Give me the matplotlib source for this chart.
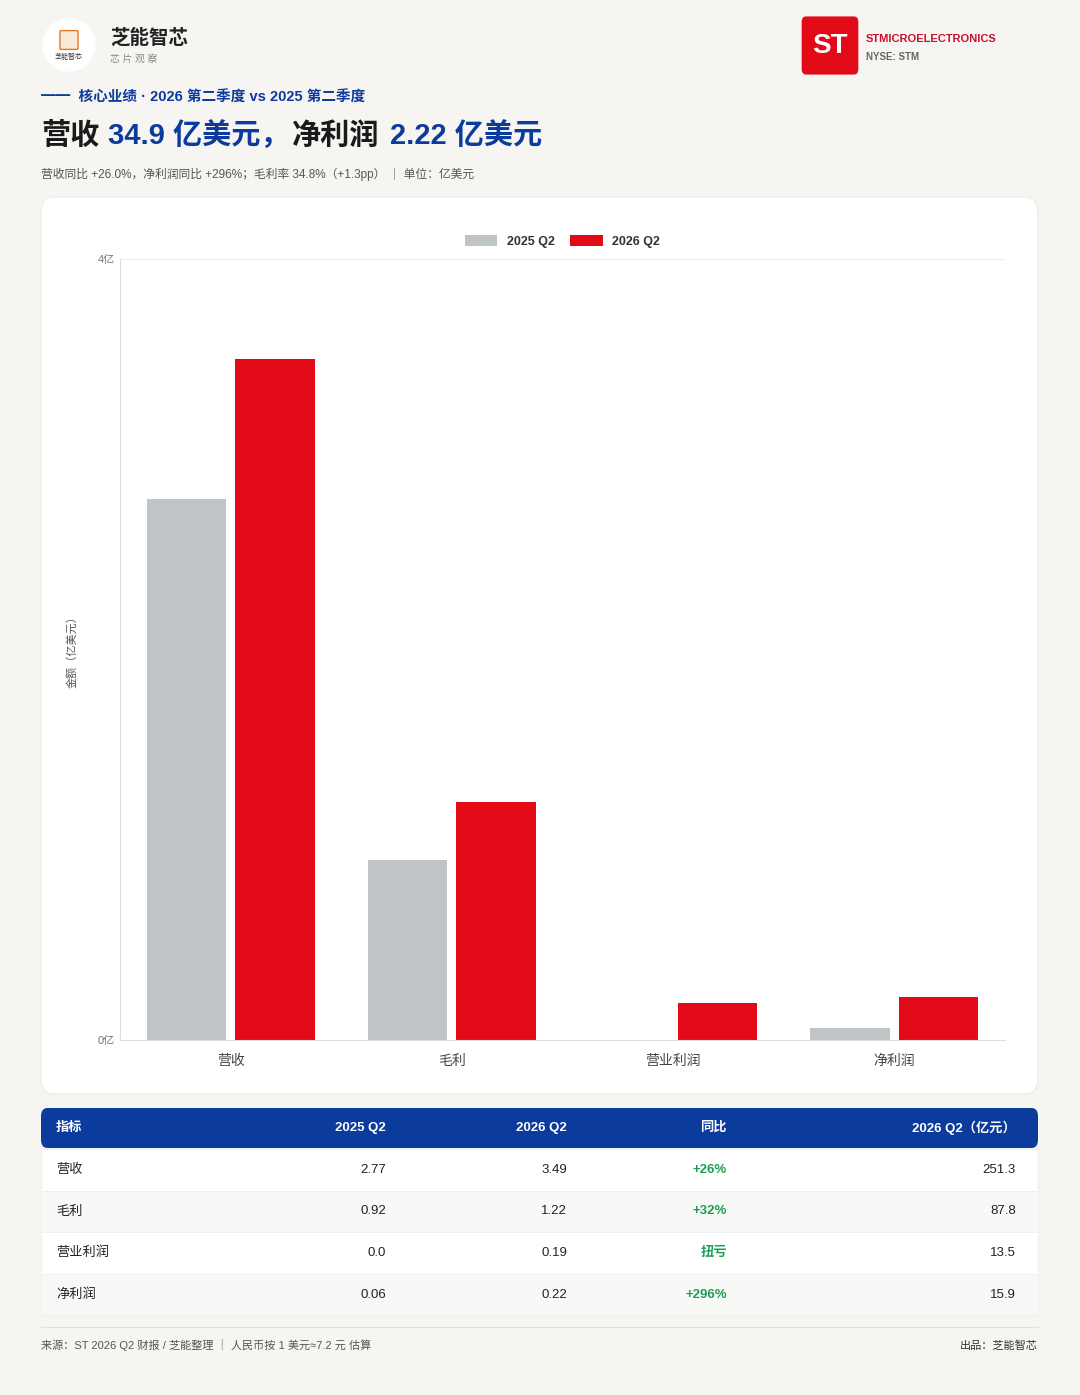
import matplotlib.pyplot as plt
from matplotlib.patches import FancyBboxPatch, Rectangle, Ellipse
import numpy as np

plt.rcParams['font.family'] = ['Liberation Sans', 'Noto Sans CJK SC', 'DejaVu Sans']

categories = ['营收', '毛利', '营业利润', '净利润']
q2_2025 = [2.77, 0.92, 0.0, 0.06]
q2_2026 = [3.49, 1.22, 0.19, 0.22]
yoy = ['+26%', '+32%', '扭亏', '+296%']
rmb_2026 = ['251.3', '87.8', '13.5', '15.9']
t25 = ['2.77', '0.92', '0.0', '0.06']
t26 = ['3.49', '1.22', '0.19', '0.22']

W, H = 1080, 1395
fig = plt.figure(figsize=(W/100, H/100), dpi=100)
fig.patch.set_facecolor('#f6f5f2')

def fx(x): return x / W
def fy(y): return 1 - y / H
def txt(x, y, s, **kw):
    fig.text(fx(x), fy(y), s, **kw)

BLUE = '#0b3b9c'
RED = '#e30a17'
GREY = '#bfc5c7'

# header
fig.patches.append(Ellipse((fx(69), fy(45)), 52/W, 52/H, transform=fig.transFigure, color='white'))
fig.patches.append(FancyBboxPatch((fx(61), fy(48)), fx(16), 16/H, boxstyle='round,pad=0.001',
                                  transform=fig.transFigure, fc='#fbe9d8', ec='#e07a2a', lw=1))
txt(69, 57, '芝能智芯', fontsize=5, ha='center', va='center', color='#333')
txt(110, 38, '芝能智芯', fontsize=14, weight='bold', va='center', color='#222')
txt(110, 59, '芯 片 观 察', fontsize=7, va='center', color='#888')
fig.patches.append(FancyBboxPatch((fx(806), fy(69)), fx(48), 47/H, boxstyle='round,pad=0.004',
                                  transform=fig.transFigure, fc=RED, ec='none'))
txt(830, 46, 'ST', fontsize=20, weight='bold', ha='center', va='center', color='white')
txt(866, 39, 'STMICROELECTRONICS', fontsize=8, weight='bold', va='center', color='#c8102e')
txt(866, 57, 'NYSE: STM', fontsize=7, weight='bold', va='center', color='#666')

txt(41, 98, '━━  核心业绩 · 2026 第二季度 vs 2025 第二季度', fontsize=10.5, weight='bold', va='center', color=BLUE)
txt(41, 136, '营收', fontsize=21, weight='bold', va='center', color='#1a1a1a')
txt(108, 136, '34.9 亿美元，', fontsize=21, weight='bold', va='center', color=BLUE)
txt(292, 136, '净利润', fontsize=21, weight='bold', va='center', color='#1a1a1a')
txt(390, 136, '2.22 亿美元', fontsize=21, weight='bold', va='center', color=BLUE)
txt(41, 174, '营收同比 +26.0%，净利润同比 +296%；毛利率 34.8%（+1.3pp） ｜ 单位：亿美元',
    fontsize=8.5, va='center', color='#555')

# chart card
fig.patches.append(FancyBboxPatch((fx(41), fy(1094)), fx(997), 897/H, boxstyle='round,pad=0,rounding_size=0.012',
                                  transform=fig.transFigure, fc='white', ec='#ecebe7', lw=0.8))

ax = fig.add_axes([fx(120), fy(1040), fx(885), (1040-259)/H])
ax.set_zorder(5)
ax.patch.set_alpha(0)
x = np.arange(len(categories))
w = 0.36
ax.bar(x - 0.2, q2_2025, w, color=GREY, label='2025 Q2')
ax.bar(x + 0.2, q2_2026, w, color=RED, label='2026 Q2')
ax.set_xlim(-0.5, 3.5)
ax.set_ylim(0, 4)
ax.set_yticks([0, 4])
ax.set_yticklabels(['0亿', '4亿'], fontsize=8, color='#777')
ax.set_xticks(x)
ax.set_xticklabels(categories, fontsize=10, color='#444')
ax.tick_params(length=0)
ax.tick_params(axis='x', pad=10)
ax.axhline(4, color='#eeeeee', lw=0.8)
for s in ['top', 'right']:
    ax.spines[s].set_visible(False)
ax.spines['left'].set_color('#dddddd')
ax.spines['bottom'].set_color('#dddddd')
ax.set_ylabel('金额（亿美元）', fontsize=8, color='#555', labelpad=28)
ax.yaxis.set_label_coords(-0.048, 0.5)
leg = ax.legend(loc='lower center', bbox_to_anchor=(0.5, 1.0), ncol=2, frameon=False, fontsize=9,
                handlelength=2.6, handleheight=0.9, columnspacing=1.2,
                prop={'weight': 'bold', 'size': 9})
for t in leg.get_texts():
    t.set_color('#333')

# table
cols_x = [56, 386, 567, 727, 1016]
cols_ha = ['left', 'right', 'right', 'right', 'right']
header = ['指标', '2025 Q2', '2026 Q2', '同比', '2026 Q2（亿元）']
fig.patches.append(FancyBboxPatch((fx(41), fy(1148)), fx(997), 40/H, boxstyle='round,pad=0,rounding_size=0.006',
                                  transform=fig.transFigure, fc=BLUE, ec='none'))
for cx, ha, h in zip(cols_x, cols_ha, header):
    txt(cx, 1128, h, fontsize=9.5, weight='bold', ha=ha, va='center', color='white')
for i in range(4):
    top = 1149 + i * 41.5
    fig.patches.append(Rectangle((fx(41), fy(top + 41.5)), fx(997), 41.5/H, transform=fig.transFigure,
                                 fc='white' if i % 2 == 0 else '#f8f8f6', ec='#eeeeee', lw=0.6))
    yc = top + 21
    row = [categories[i], t25[i], t26[i], yoy[i], rmb_2026[i]]
    for j, (cx, ha, s) in enumerate(zip(cols_x, cols_ha, row)):
        color = '#1e9e55' if j == 3 else '#222'
        txt(cx, yc, s, fontsize=9.5, ha=ha, va='center', color=color, weight='bold' if j == 3 else 'normal')

fig.add_artist(plt.Line2D([fx(41), fx(1038)], [fy(1327), fy(1327)], color='#e2e1dc', lw=0.8))
txt(41, 1345, '来源：ST 2026 Q2 财报 / 芝能整理 ｜ 人民币按 1 美元≈7.2 元 估算', fontsize=8, va='center', color='#555')
txt(1038, 1345, '出品：芝能智芯', fontsize=8, ha='right', va='center', color='#333')

fig.savefig('out.png', dpi=100, facecolor=fig.get_facecolor())
